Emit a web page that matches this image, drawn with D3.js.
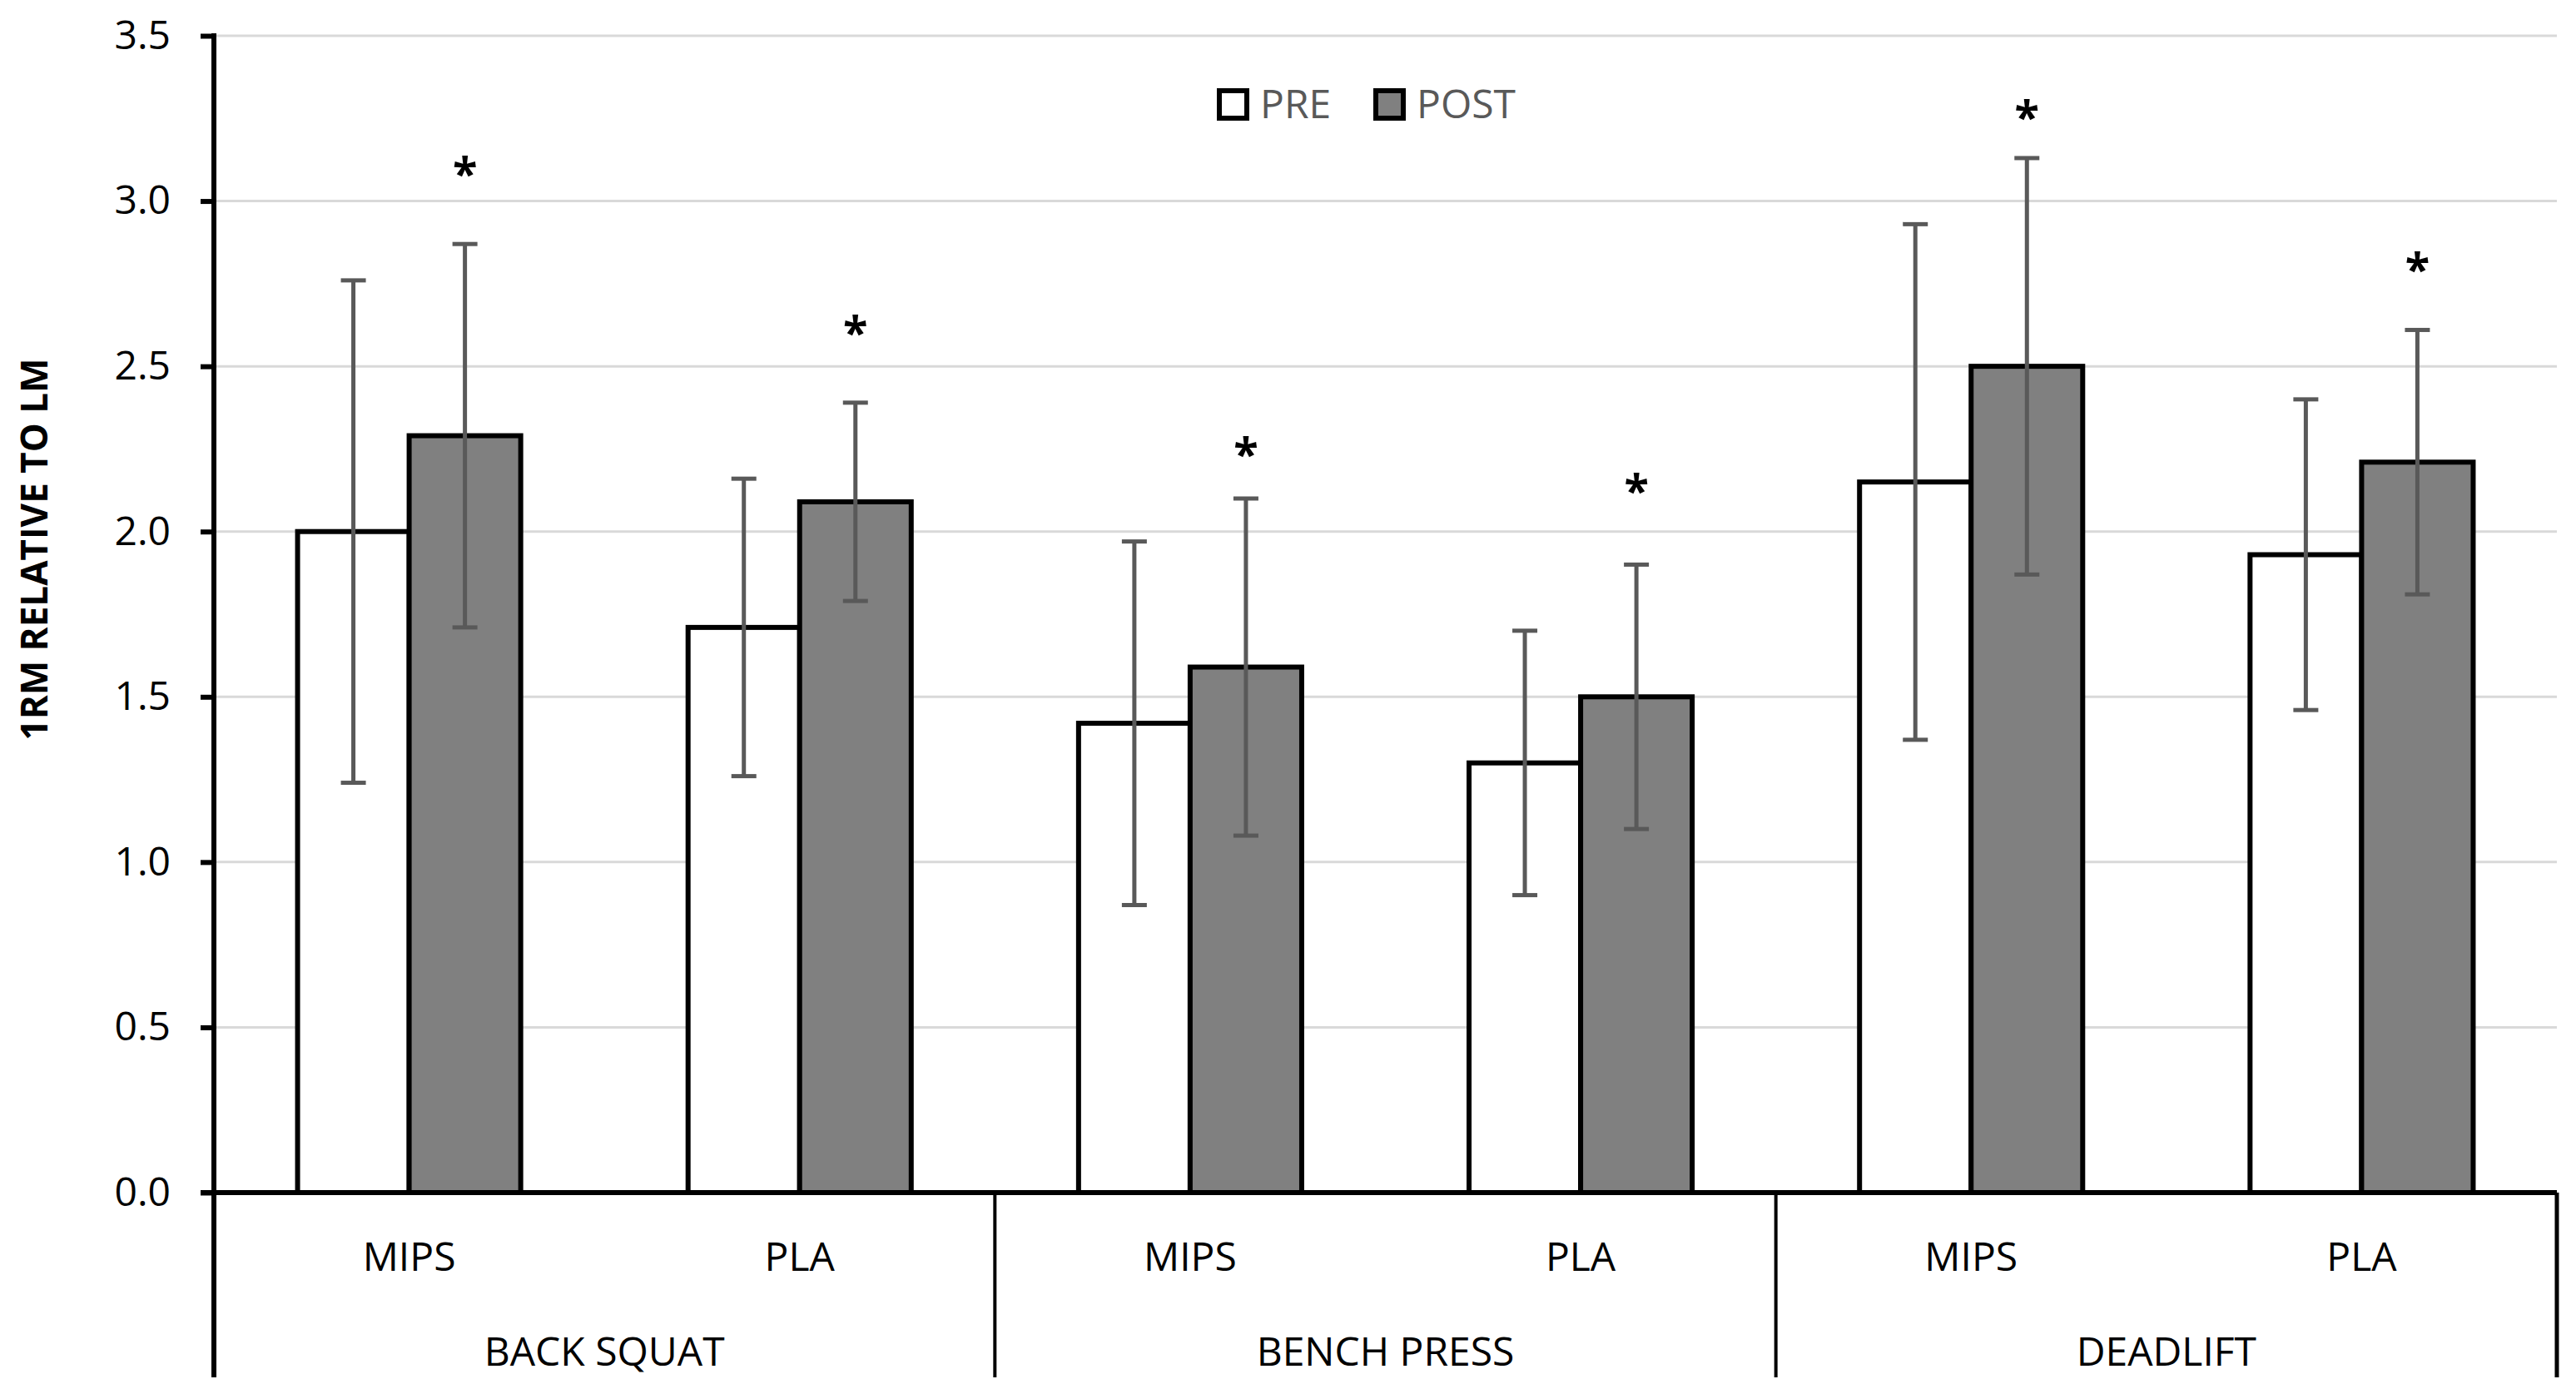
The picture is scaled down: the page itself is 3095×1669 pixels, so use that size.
<!DOCTYPE html>
<html>
<head>
<meta charset="utf-8">
<script src="https://cdn.jsdelivr.net/npm/d3@7"></script>
<style>
  html, body { margin: 0; padding: 0; background: #ffffff; }
  svg { display: block; }
  text { font-family: "Open Sans", "Noto Sans", sans-serif; }
</style>
</head>
<body>
<svg id="chart" width="3095" height="1669"></svg>
<script>
// ---- data ----
const exercises = ["BACK SQUAT", "BENCH PRESS", "DEADLIFT"];
const groups = ["MIPS", "PLA"];
const series = ["PRE", "POST"];
const preMean  = [2.00, 1.71, 1.42, 1.30, 2.15, 1.93];
const preSD    = [0.76, 0.45, 0.55, 0.40, 0.78, 0.47];
const postMean = [2.29, 2.09, 1.59, 1.50, 2.50, 2.21];
const postSD   = [0.58, 0.30, 0.51, 0.40, 0.63, 0.40];
const sigY     = [3.11, 2.63, 2.26, 2.15, 3.28, 2.82]; // asterisk heights (data units)
const yTicks   = [0.0, 0.5, 1.0, 1.5, 2.0, 2.5, 3.0, 3.5];
const yTitle   = "1RM RELATIVE TO LM";

(function () {
// ---- build rows ----
const slots = [];
exercises.forEach((ex, i) => groups.forEach((g, j) => slots.push({ex, g, key: ex + "|" + g, idx: i * 2 + j})));

const svg = d3.select("#chart");
svg.append("rect").attr("width", 3095).attr("height", 1669).attr("fill", "#fff");

const pLeft = 257, pRight = 3072, pTop = 43, pBase = 1433, pBottom = 1655;

const y = d3.scaleLinear().domain([0, 3.5]).range([pBase, pTop]);
const x0 = d3.scaleBand().domain(slots.map(d => d.key)).range([pLeft, pRight]).padding(0);
const x1 = d3.scaleBand().domain(series).range([0, x0.bandwidth()]).paddingInner(0).paddingOuter(0.75);
const xEx = d3.scaleBand().domain(exercises).range([pLeft, pRight]).padding(0);

// gridlines
svg.append("g").selectAll("line").data(yTicks.filter(v => v > 0)).join("line")
  .attr("x1", pLeft).attr("x2", pRight)
  .attr("y1", d => y(d)).attr("y2", d => y(d))
  .attr("stroke", "#d9d9d9").attr("stroke-width", 3);

// bars
const bars = [];
slots.forEach(s => {
  bars.push({s, ser: "PRE", mean: preMean[s.idx], sd: preSD[s.idx]});
  bars.push({s, ser: "POST", mean: postMean[s.idx], sd: postSD[s.idx]});
});
svg.append("g").selectAll("rect").data(bars).join("rect")
  .attr("x", d => x0(d.s.key) + x1(d.ser))
  .attr("y", d => y(d.mean))
  .attr("width", x1.bandwidth())
  .attr("height", d => y(0) - y(d.mean))
  .attr("fill", d => d.ser === "PRE" ? "#ffffff" : "#808080")
  .attr("stroke", "#000").attr("stroke-width", 6);

// error bars
const eg = svg.append("g").attr("stroke", "#595959").attr("stroke-width", 5);
bars.forEach(d => {
  const cx = x0(d.s.key) + x1(d.ser) + x1.bandwidth() / 2;
  const yt = y(d.mean + d.sd), yb = y(d.mean - d.sd);
  eg.append("line").attr("x1", cx).attr("x2", cx).attr("y1", yt).attr("y2", yb);
  eg.append("line").attr("x1", cx - 15).attr("x2", cx + 15).attr("y1", yt).attr("y2", yt);
  eg.append("line").attr("x1", cx - 15).attr("x2", cx + 15).attr("y1", yb).attr("y2", yb);
});

// asterisks
svg.append("g").selectAll("text").data(slots).join("text")
  .attr("x", d => x0(d.key) + x1("POST") + x1.bandwidth() / 2)
  .attr("y", d => y(sigY[d.idx]) + 30)
  .attr("text-anchor", "middle")
  .attr("font-size", 54).attr("font-weight", 700).attr("fill", "#000")
  .text("*");

// y axis
const yAxis = d3.axisLeft(y).tickValues(yTicks).tickFormat(d3.format(".1f")).tickSize(16).tickPadding(36);
const ya = svg.append("g").attr("transform", `translate(${pLeft},0)`).call(yAxis);
ya.select(".domain").remove();
ya.selectAll(".tick line").attr("stroke", "#000").attr("stroke-width", 6);
ya.selectAll(".tick text").attr("font-size", 48).attr("fill", "#000")
  .attr("font-family", "'Open Sans', sans-serif");

// axis lines & category dividers
svg.append("line").attr("x1", pLeft).attr("x2", pLeft).attr("y1", pTop - 3).attr("y2", pBottom)
  .attr("stroke", "#000").attr("stroke-width", 6);
svg.append("line").attr("x1", pLeft - 16).attr("x2", pRight).attr("y1", pBase).attr("y2", pBase)
  .attr("stroke", "#000").attr("stroke-width", 6);
svg.append("g").selectAll("line").data(exercises.slice(1)).join("line")
  .attr("x1", d => xEx(d)).attr("x2", d => xEx(d))
  .attr("y1", pBase).attr("y2", pBottom)
  .attr("stroke", "#000").attr("stroke-width", 4);
svg.append("line").attr("x1", pRight).attr("x2", pRight).attr("y1", pBase).attr("y2", pBottom)
  .attr("stroke", "#000").attr("stroke-width", 5);

// sub-category labels
svg.append("g").selectAll("text").data(slots).join("text")
  .attr("x", d => x0(d.key) + x0.bandwidth() / 2)
  .attr("y", 1527)
  .attr("text-anchor", "middle").attr("font-size", 48).attr("fill", "#000")
  .text(d => d.g);

// exercise labels
svg.append("g").selectAll("text").data(exercises).join("text")
  .attr("x", d => xEx(d) + xEx.bandwidth() / 2)
  .attr("y", 1641)
  .attr("text-anchor", "middle").attr("font-size", 48).attr("fill", "#000")
  .text(d => d);

// y title
svg.append("text")
  .attr("transform", "translate(40,660) rotate(-90)")
  .attr("text-anchor", "middle").attr("dominant-baseline", "central")
  .attr("font-size", 44).attr("font-weight", 700).attr("fill", "#000")
  .text(yTitle);

// legend
const legX = [1465, 1653];
const lg = svg.append("g");
series.forEach((s, i) => {
  lg.append("rect").attr("x", legX[i]).attr("y", 109).attr("width", 33).attr("height", 33)
    .attr("fill", s === "PRE" ? "#fff" : "#808080").attr("stroke", "#000").attr("stroke-width", 6);
  lg.append("text").attr("x", legX[i] + 49).attr("y", 142)
    .attr("font-size", 48).attr("fill", "#595959").text(s);
});
})();
</script>
</body>
</html>
